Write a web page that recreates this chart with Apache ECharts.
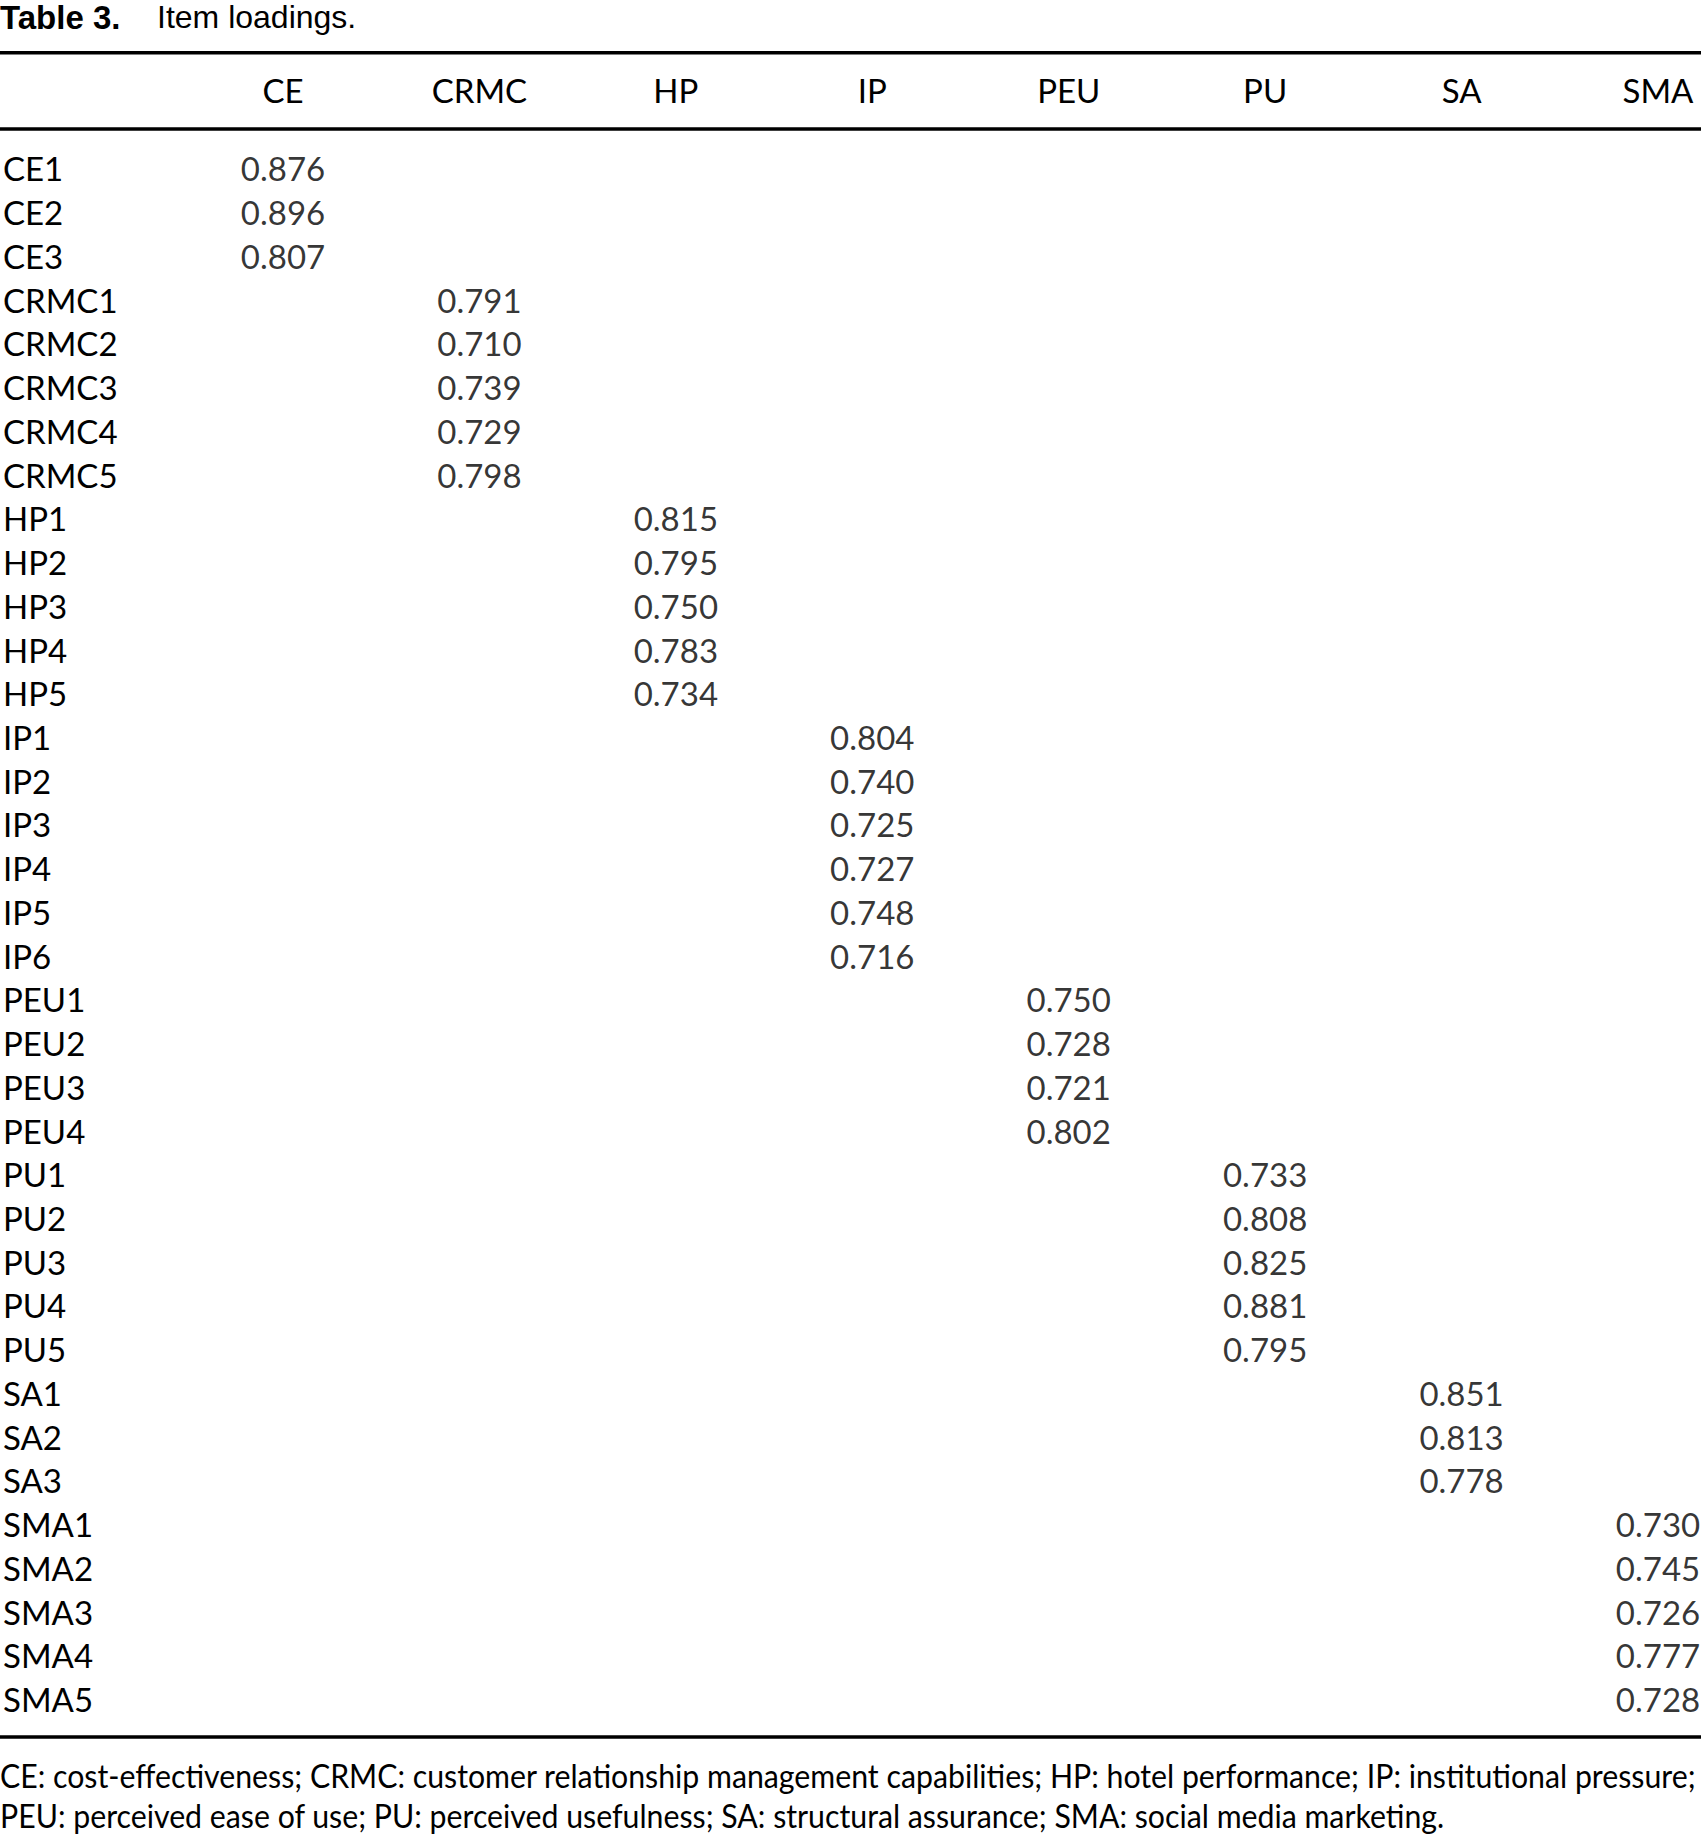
<!DOCTYPE html>
<html>
<head>
<meta charset="utf-8">
<script src="https://cdn.jsdelivr.net/npm/echarts@6/dist/echarts.min.js"></script>
<style>
  html, body { margin: 0; padding: 0; background: #fff; }
  #chart { width: 1701px; height: 1834px; }
</style>
</head>
<body>
<div id="chart"></div>
<script>
// ---- data ----
const constructs = ['CE', 'CRMC', 'HP', 'IP', 'PEU', 'PU', 'SA', 'SMA'];
const itemsCE = ['CE1', 'CE2', 'CE3'];
const loadingsCE = [0.876, 0.896, 0.807];
const itemsCRMC = ['CRMC1', 'CRMC2', 'CRMC3', 'CRMC4', 'CRMC5'];
const loadingsCRMC = [0.791, 0.710, 0.739, 0.729, 0.798];
const itemsHP = ['HP1', 'HP2', 'HP3', 'HP4', 'HP5'];
const loadingsHP = [0.815, 0.795, 0.750, 0.783, 0.734];
const itemsIP = ['IP1', 'IP2', 'IP3', 'IP4', 'IP5', 'IP6'];
const loadingsIP = [0.804, 0.740, 0.725, 0.727, 0.748, 0.716];
const itemsPEU = ['PEU1', 'PEU2', 'PEU3', 'PEU4'];
const loadingsPEU = [0.750, 0.728, 0.721, 0.802];
const itemsPU = ['PU1', 'PU2', 'PU3', 'PU4', 'PU5'];
const loadingsPU = [0.733, 0.808, 0.825, 0.881, 0.795];
const itemsSA = ['SA1', 'SA2', 'SA3'];
const loadingsSA = [0.851, 0.813, 0.778];
const itemsSMA = ['SMA1', 'SMA2', 'SMA3', 'SMA4', 'SMA5'];
const loadingsSMA = [0.730, 0.745, 0.726, 0.777, 0.728];

const titleBold = 'Table 3.';
const titleText = 'Item loadings.';
const footnoteLine1 = 'CE: cost-effectiveness; CRMC: customer relationship management capabilities; HP: hotel performance; IP: institutional pressure;';
const footnoteLine2 = 'PEU: perceived ease of use; PU: perceived usefulness; SA: structural assurance; SMA: social media marketing.';

// ---- build ----
const groups = [
  [itemsCE, loadingsCE], [itemsCRMC, loadingsCRMC], [itemsHP, loadingsHP], [itemsIP, loadingsIP],
  [itemsPEU, loadingsPEU], [itemsPU, loadingsPU], [itemsSA, loadingsSA], [itemsSMA, loadingsSMA]
];
const rowNames = [];
const cells = [];
groups.forEach(function (g, ci) {
  g[0].forEach(function (item, k) {
    rowNames.push(item);
    cells.push([constructs[ci], item, g[1][k]]);
  });
});

const FONT = "Lato, 'Liberation Sans', Arial, sans-serif";
const W = 1701;
const GRID_LEFT = 280;
const FS = 33;

// footnote widths (fit to reference line lengths)
const FOOT_FS = 33;
const ctx = document.createElement('canvas').getContext('2d');
ctx.font = FOOT_FS + 'px ' + FONT;
const w1 = ctx.measureText(footnoteLine1).width;
const footScale = 1697 / w1;

const chart = echarts.init(document.getElementById('chart'), null, { renderer: 'svg' });
chart.setOption({
  backgroundColor: '#ffffff',
  animation: false,
  title: {
    left: 0, top: 0, padding: 0,
    text: '{b|' + titleBold + '}' + titleText,
    textStyle: {
      fontFamily: "'Liberation Sans', Arial, sans-serif",
      fontSize: 32, fontWeight: 'normal', color: '#000', lineHeight: 34,
      rich: { b: { width: 157, fontWeight: 'bold', fontSize: 33, lineHeight: 34, color: '#000', fontFamily: "'Liberation Sans', Arial, sans-serif" } }
    }
  },
  grid: { left: GRID_LEFT, right: 43, top: 146.6, bottom: 113.1, containLabel: false },
  xAxis: {
    type: 'category',
    data: constructs,
    position: 'top',
    boundaryGap: false,
    axisLine: { show: false },
    axisTick: { show: false },
    splitLine: { show: false },
    axisLabel: {
      interval: 0, margin: 56.6, verticalAlign: 'middle',
      fontFamily: FONT, fontSize: FS, color: '#000'
    }
  },
  yAxis: {
    type: 'category',
    data: rowNames,
    inverse: true,
    axisLine: { show: false },
    axisTick: { show: false },
    splitLine: { show: false },
    axisLabel: {
      interval: 0, align: 'left', margin: GRID_LEFT, verticalAlign: 'middle',
      fontFamily: FONT, fontSize: FS, color: '#000'
    }
  },
  series: [{
    type: 'scatter',
    data: cells,
    symbolSize: 1,
    itemStyle: { color: 'rgba(0,0,0,0)' },
    label: {
      show: true, position: 'inside',
      formatter: function (p) { return p.value[2].toFixed(3); },
      fontFamily: FONT, fontSize: FS, color: '#000'
    }
  }],
  graphic: [
    { type: 'rect', shape: { x: 0, y: 51, width: W, height: 3.5 }, style: { fill: '#000' } },
    { type: 'rect', shape: { x: 0, y: 127.3, width: W, height: 3.5 }, style: { fill: '#000' } },
    { type: 'rect', shape: { x: 0, y: 1735.3, width: W, height: 3.5 }, style: { fill: '#000' } },
    { type: 'text', x: 0, y: 1775, scaleX: footScale, originX: 0, style: { text: footnoteLine1, fontFamily: FONT, fontSize: FOOT_FS, fill: '#000', verticalAlign: 'middle', align: 'left' } },
    { type: 'text', x: 0, y: 1815, scaleX: footScale, originX: 0, style: { text: footnoteLine2, fontFamily: FONT, fontSize: FOOT_FS, fill: '#000', verticalAlign: 'middle', align: 'left' } }
  ]
});
</script>
</body>
</html>
